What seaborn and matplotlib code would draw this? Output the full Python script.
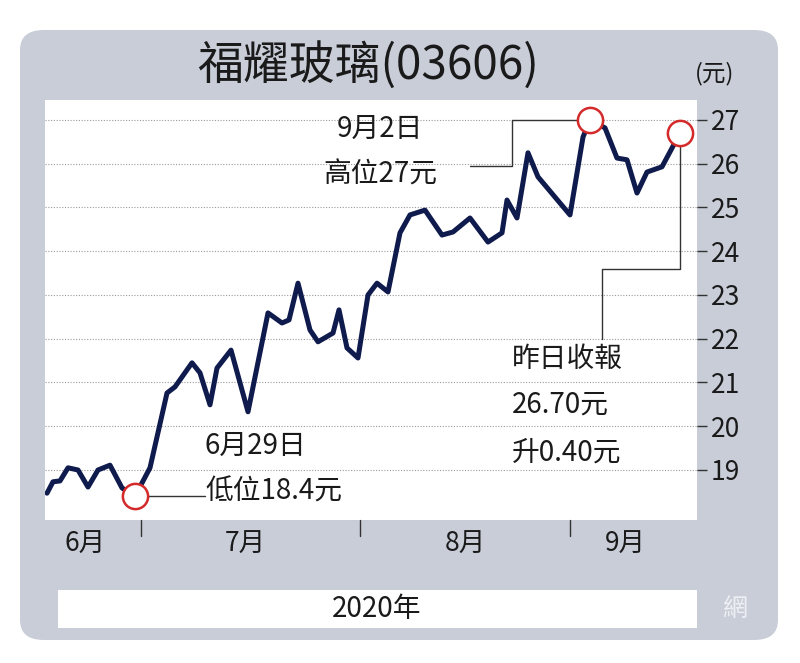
import matplotlib
matplotlib.use("Agg")
import matplotlib.pyplot as plt
import seaborn as sns
import pandas as pd
from matplotlib.patches import FancyBboxPatch, Rectangle

sns.set_theme(style="white")
plt.rcParams['font.family'] = ['Noto Sans CJK TC', 'DejaVu Sans']

# data: trading-day position, close price
day_pos = [0, 0.6, 1.3, 2.1, 3.1, 4.1, 5.1, 6.3, 7.5, 8.8, 10.3, 12, 12.8, 14.5, 15.3, 16.3, 17, 18.4,
           20.1, 22.1, 23.5, 24.2, 25.1, 26.3, 27.1, 28.6, 29.2, 30, 31.1, 32.1, 33, 34.1, 35.3, 36.3,
           37.8, 39.5, 40.6, 42.3, 44.1, 45.5, 46, 47, 48.1, 49.1, 52.3, 53.6, 54.3, 55.8, 57, 58, 59,
           60, 61.5, 63.3]
prices = [18.47, 18.73, 18.75, 19.05, 19.0, 18.61, 19.0, 19.11, 18.59, 18.4, 19.05, 20.76, 20.9, 21.45,
          21.22, 20.49, 21.33, 21.74, 20.33, 22.59, 22.36, 22.43, 23.27, 22.2, 21.93, 22.13, 22.66, 21.79,
          21.56, 23.0, 23.27, 23.07, 24.42, 24.83, 24.94, 24.37, 24.44, 24.76, 24.21, 24.42, 25.17, 24.76,
          26.25, 25.7, 24.83, 26.61, 27.0, 26.82, 26.13, 26.09, 25.33, 25.81, 25.93, 26.7]
y_ticks = [19, 20, 21, 22, 23, 24, 25, 26, 27]
month_labels = ["6月", "7月", "8月", "9月"]
month_label_pos = [3.8, 19.8, 41.8, 57.8]
month_dividers = [9.4, 31.3, 52.3]

df = pd.DataFrame({"x": day_pos, "price": prices})
W, H = 800, 663
fig = plt.figure(figsize=(8, 6.63), dpi=100)
fig.patch.set_facecolor("white")
gray = "#c8cdd8"
fig.patches.append(FancyBboxPatch((20 / W, 1 - 640 / H), 758 / W, 610 / H,
                                  boxstyle="round,pad=0,rounding_size=0.03",
                                  transform=fig.transFigure, fc=gray, ec="none", zorder=-2))
fig.patches.append(Rectangle((58 / W, 1 - 628 / H), 639 / W, 38 / H, transform=fig.transFigure,
                             fc="white", ec="none", zorder=-1))
fig.text(377 / W, 1 - 609 / H, "2020年", ha="center", va="center", fontsize=20, color="#1a1a1a")
fig.text(368 / W, 1 - 66 / H, "福耀玻璃(03606)", ha="center", va="center", fontsize=33,
         fontweight="medium", color="#1a1a1a")
fig.text(715 / W, 1 - 74 / H, "(元)", ha="center", va="center", fontsize=17, color="#1a1a1a")
fig.text(735 / W, 1 - 609 / H, "網", ha="center", va="center", fontsize=18, color="#eef0f4")

ax = fig.add_axes([45 / W, 1 - 520 / H, 652 / W, 420 / H])
ax.set_zorder(5)
ax.set_facecolor("white")
ax.set_xlim(-0.2, 65)
ax.set_ylim(17.857, 27.457)
for v in y_ticks:
    ax.axhline(v, color="#9a9a9a", lw=0.8, ls=(0, (1, 1.5)), zorder=1)
sns.lineplot(data=df, x="x", y="price", ax=ax, color="#0f1a4d", lw=3.6, zorder=3)

ax.yaxis.tick_right()
ax.set_yticks(y_ticks)
ax.set_yticklabels([str(v) for v in y_ticks], fontsize=19, color="#1a1a1a")
ax.tick_params(axis="y", direction="out", length=7, width=1, color="#333333", pad=3, right=True)
ax.set_xticks([])
ax.set_xlabel("")
ax.set_ylabel("")
for s in ax.spines.values():
    s.set_visible(False)

for m, p in zip(month_labels, month_label_pos):
    ax.text(p, 17.857 - 0.55, m, ha="center", va="center", fontsize=19, color="#1a1a1a",
            clip_on=False)
for d in month_dividers:
    ax.plot([d, d], [17.857, 17.5], color="#333333", lw=1, clip_on=False)

# highlighted points
i_low = prices.index(min(prices))
i_high = prices.index(max(prices))
i_last = len(prices) - 1
for i in (i_low, i_high, i_last):
    ax.scatter(day_pos[i], prices[i], s=330, facecolor="white", edgecolor="#d42a2a", lw=1.8,
               zorder=5, clip_on=False)

lc = "#333333"
ax.plot([day_pos[i_low] + 1.2, 15.8], [prices[i_low]] * 2, color=lc, lw=1, zorder=2)
ax.text(15.8, 19.55, "6月29日", ha="left", va="center", fontsize=20, color="#1a1a1a")
ax.text(15.8, 18.5, "低位18.4元", ha="left", va="center", fontsize=20, color="#1a1a1a")
ax.plot([day_pos[i_high] - 1.3, 46.5, 46.5, 42.3], [prices[i_high], prices[i_high], 25.95, 25.95],
        color=lc, lw=1, zorder=2)
ax.text(33.3, 26.8, "9月2日", ha="center", va="center", fontsize=20, color="#1a1a1a")
ax.text(33.3, 25.75, "高位27元", ha="center", va="center", fontsize=20, color="#1a1a1a")
ax.plot([day_pos[i_last], day_pos[i_last], 55.5, 55.5], [prices[i_last] - 0.3, 23.6, 23.6, 22.0],
        color=lc, lw=1, zorder=2)
ax.text(46.5, 21.55, "昨日收報", ha="left", va="center", fontsize=20, color="#1a1a1a")
ax.text(46.5, 20.5, "26.70元", ha="left", va="center", fontsize=20, color="#1a1a1a")
ax.text(46.5, 19.4, "升0.40元", ha="left", va="center", fontsize=20, color="#1a1a1a")

fig.savefig("out.png", dpi=100)
